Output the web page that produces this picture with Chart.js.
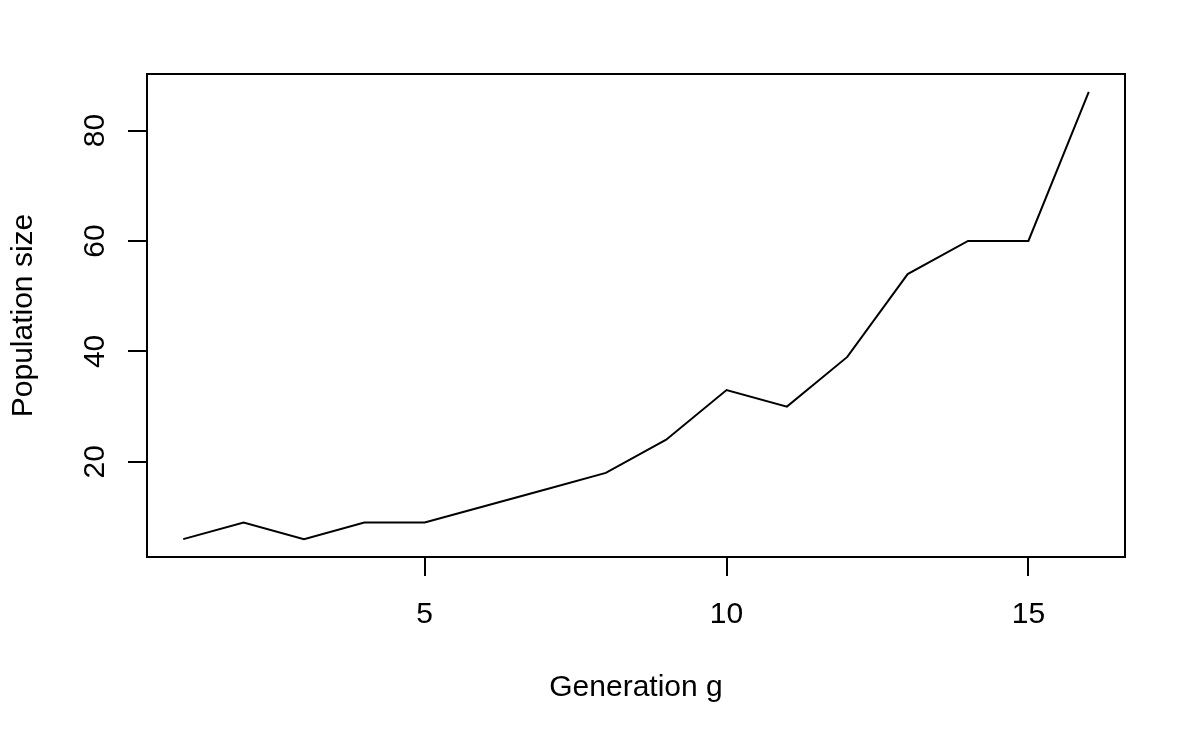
<!DOCTYPE html>
<html>
<head>
<meta charset="utf-8">
<script src="https://cdn.jsdelivr.net/npm/chart.js@4/dist/chart.umd.min.js"></script>
<style>
  body { margin: 0; background: #fff; }
  canvas { display: block; }
</style>
</head>
<body>
<canvas id="popChart" width="1200" height="741"></canvas>
<script>
// generation vs population size
const generations = [1, 2, 3, 4, 5, 6, 7, 8, 9, 10, 11, 12, 13, 14, 15, 16];
const popSize = [6, 9, 6, 9, 9, 12, 15, 18, 24, 33, 30, 39, 54, 60, 60, 87];
const xTicks = [5, 10, 15];
const yTicks = [20, 40, 60, 80];

const FONT = "'Liberation Sans', Arial, Helvetica, sans-serif";

// box, tick labels and axis titles like base R
const rStyle = {
    id: 'rStyle',
    afterDraw(chart) {
        const ctx = chart.ctx;
        const a = chart.chartArea;
        const x = chart.scales.x;
        const y = chart.scales.y;
        ctx.save();
        ctx.strokeStyle = '#000';
        ctx.lineWidth = 2;
        ctx.strokeRect(a.left, a.top, a.right - a.left, a.bottom - a.top);

        ctx.fillStyle = '#000';
        ctx.font = '30px ' + FONT;
        ctx.textAlign = 'center';
        ctx.textBaseline = 'alphabetic';

        xTicks.forEach(v => {
            ctx.fillText(String(v), x.getPixelForValue(v), 623);
        });
        yTicks.forEach(v => {
            ctx.save();
            ctx.translate(104, y.getPixelForValue(v));
            ctx.rotate(-Math.PI / 2);
            ctx.fillText(String(v), 0, 0);
            ctx.restore();
        });

        ctx.fillText('Generation g', (a.left + a.right) / 2, 696);
        ctx.save();
        ctx.translate(32, (a.top + a.bottom) / 2);
        ctx.rotate(-Math.PI / 2);
        ctx.fillText('Population size', 0, 0);
        ctx.restore();
        ctx.restore();
    }
};

new Chart(document.getElementById('popChart').getContext('2d'), {
    type: 'line',
    data: {
        datasets: [{
            data: generations.map((g, i) => ({ x: g, y: popSize[i] })),
            borderColor: '#000',
            borderWidth: 2,
            pointRadius: 0,
            tension: 0,
            fill: false
        }]
    },
    options: {
        responsive: false,
        animation: false,
        layout: { padding: { left: 0, top: 74, right: 75, bottom: 0 } },
        plugins: { legend: { display: false }, tooltip: { enabled: false } },
        scales: {
            x: {
                type: 'linear',
                min: 0.4, max: 16.6,
                afterBuildTicks: (s) => { s.ticks = xTicks.map(v => ({ value: v })); },
                afterFit: (s) => { s.height = 184; },
                border: { display: false },
                grid: { drawOnChartArea: false, drawTicks: true, tickLength: 19, color: '#000', lineWidth: 2 },
                ticks: { display: false }
            },
            y: {
                type: 'linear',
                min: 2.76, max: 90.24,
                afterBuildTicks: (s) => { s.ticks = yTicks.map(v => ({ value: v })); },
                afterFit: (s) => { s.width = 147; },
                border: { display: false },
                grid: { drawOnChartArea: false, drawTicks: true, tickLength: 19, color: '#000', lineWidth: 2 },
                ticks: { display: false }
            }
        }
    },
    plugins: [rStyle]
});
</script>
</body>
</html>
